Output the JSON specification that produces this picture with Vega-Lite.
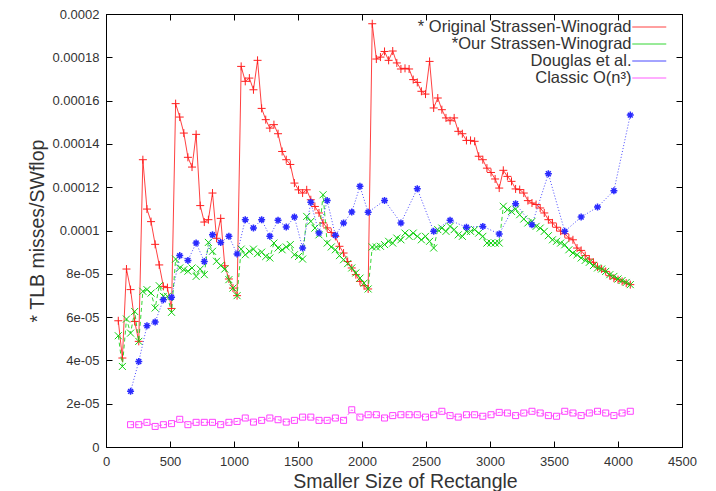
{
"$schema": "https://vega.github.io/schema/vega-lite/v6.json",
"width": 576, "height": 433,
"autosize": {"type": "none"},
"padding": {"left": 106, "top": 14, "right": 34, "bottom": 44},
"background": "white",
"datasets": {
"orig": [
{"x":96,"y":5.83e-5},{"x":128,"y":4.11e-5},{"x":160,"y":8.22e-5},{"x":192,"y":7.27e-5},{"x":224,"y":5.8e-5},{"x":256,"y":4.88e-5},{"x":288,"y":13.27e-5},{"x":320,"y":10.99e-5},{"x":352,"y":10.41e-5},{"x":384,"y":9.36e-5},{"x":416,"y":8.41e-5},{"x":448,"y":7.42e-5},{"x":480,"y":7.36e-5},{"x":512,"y":6.4e-5},{"x":544,"y":15.86e-5},{"x":576,"y":15.24e-5},{"x":608,"y":14.5e-5},{"x":640,"y":13.38e-5},{"x":672,"y":12.93e-5},{"x":704,"y":14.44e-5},{"x":736,"y":11.15e-5},{"x":768,"y":10.39e-5},{"x":800,"y":10.5e-5},{"x":832,"y":11.73e-5},{"x":864,"y":9.64e-5},{"x":896,"y":10.56e-5},{"x":928,"y":8.37e-5},{"x":960,"y":7.76e-5},{"x":992,"y":7.34e-5},{"x":1024,"y":6.99e-5},
{"x":1056,"y":17.58e-5},{"x":1088,"y":16.89e-5},{"x":1120,"y":17.04e-5},{"x":1152,"y":16.5e-5},{"x":1184,"y":17.86e-5},{"x":1216,"y":15.64e-5},{"x":1248,"y":15.12e-5},{"x":1280,"y":14.73e-5},{"x":1312,"y":14.89e-5},{"x":1344,"y":14.47e-5},{"x":1376,"y":13.65e-5},{"x":1408,"y":13.27e-5},{"x":1440,"y":13.05e-5},{"x":1472,"y":12.19e-5},{"x":1504,"y":11.88e-5},{"x":1536,"y":11.73e-5},{"x":1568,"y":11.88e-5},{"x":1600,"y":11.42e-5},{"x":1632,"y":11.11e-5},{"x":1664,"y":10.81e-5},{"x":1696,"y":10.35e-5},{"x":1728,"y":10.12e-5},{"x":1760,"y":9.91e-5},{"x":1792,"y":9.73e-5},{"x":1824,"y":9.27e-5},{"x":1856,"y":8.96e-5},{"x":1888,"y":8.57e-5},{"x":1920,"y":8.27e-5},{"x":1952,"y":7.96e-5},{"x":1984,"y":7.65e-5},{"x":2016,"y":7.45e-5},{"x":2048,"y":7.3e-5},
{"x":2080,"y":19.55e-5},{"x":2112,"y":17.92e-5},{"x":2144,"y":18.01e-5},{"x":2176,"y":18.27e-5},{"x":2208,"y":17.86e-5},{"x":2240,"y":18.29e-5},{"x":2272,"y":17.74e-5},{"x":2304,"y":17.46e-5},{"x":2336,"y":17.49e-5},{"x":2368,"y":17.46e-5},{"x":2400,"y":16.97e-5},{"x":2432,"y":16.84e-5},{"x":2464,"y":16.43e-5},{"x":2496,"y":16.3e-5},{"x":2528,"y":17.81e-5},{"x":2560,"y":15.66e-5},{"x":2592,"y":16.12e-5},{"x":2624,"y":15.58e-5},{"x":2656,"y":15.2e-5},{"x":2688,"y":15.07e-5},{"x":2720,"y":15.2e-5},{"x":2752,"y":14.58e-5},{"x":2784,"y":14.47e-5},{"x":2816,"y":14.16e-5},{"x":2848,"y":14.16e-5},{"x":2880,"y":14.12e-5},{"x":2912,"y":13.43e-5},{"x":2944,"y":13.27e-5},{"x":2976,"y":12.88e-5},{"x":3008,"y":12.68e-5},{"x":3040,"y":12.38e-5},{"x":3072,"y":11.96e-5},
{"x":3104,"y":12.78e-5},{"x":3136,"y":12.5e-5},{"x":3168,"y":12.27e-5},{"x":3200,"y":11.92e-5},{"x":3232,"y":11.89e-5},{"x":3264,"y":11.73e-5},{"x":3296,"y":11.38e-5},{"x":3328,"y":11.27e-5},{"x":3360,"y":11.2e-5},{"x":3392,"y":11.04e-5},{"x":3424,"y":10.81e-5},{"x":3456,"y":10.5e-5},{"x":3488,"y":10.35e-5},{"x":3520,"y":10.15e-5},{"x":3552,"y":9.97e-5},{"x":3584,"y":9.85e-5},{"x":3616,"y":9.65e-5},{"x":3648,"y":9.57e-5},{"x":3680,"y":9.19e-5},{"x":3712,"y":9.08e-5},{"x":3744,"y":8.84e-5},{"x":3776,"y":8.68e-5},{"x":3808,"y":8.53e-5},{"x":3840,"y":8.31e-5},{"x":3872,"y":8.22e-5},{"x":3904,"y":8.11e-5},{"x":3936,"y":7.91e-5},{"x":3968,"y":7.8e-5},{"x":4000,"y":7.73e-5},{"x":4032,"y":7.65e-5},{"x":4064,"y":7.57e-5},{"x":4096,"y":7.5e-5}
],
"ours": [
{"x":96,"y":5.14e-5},{"x":128,"y":3.72e-5},{"x":160,"y":5.91e-5},{"x":192,"y":5.26e-5},{"x":224,"y":6.26e-5},{"x":256,"y":4.88e-5},{"x":288,"y":7.19e-5},{"x":320,"y":7.27e-5},{"x":352,"y":7.11e-5},{"x":384,"y":6.42e-5},{"x":416,"y":7.45e-5},{"x":448,"y":6.96e-5},{"x":480,"y":6.96e-5},{"x":512,"y":6.22e-5},{"x":544,"y":8.68e-5},{"x":576,"y":8.27e-5},{"x":608,"y":8.19e-5},{"x":640,"y":8.12e-5},{"x":672,"y":8.27e-5},{"x":704,"y":7.88e-5},{"x":736,"y":8.22e-5},{"x":768,"y":7.96e-5},{"x":800,"y":9.45e-5},{"x":832,"y":9.04e-5},{"x":864,"y":8.58e-5},{"x":896,"y":8.38e-5},{"x":928,"y":8.22e-5},{"x":960,"y":7.73e-5},{"x":992,"y":7.34e-5},{"x":1024,"y":6.99e-5},
{"x":1056,"y":9.14e-5},{"x":1088,"y":8.88e-5},{"x":1120,"y":9.04e-5},{"x":1152,"y":9.14e-5},{"x":1184,"y":8.93e-5},{"x":1216,"y":9.0e-5},{"x":1248,"y":8.8e-5},{"x":1280,"y":8.73e-5},{"x":1312,"y":9.42e-5},{"x":1344,"y":9.19e-5},{"x":1376,"y":9.11e-5},{"x":1408,"y":9.24e-5},{"x":1440,"y":9.35e-5},{"x":1472,"y":8.88e-5},{"x":1504,"y":8.8e-5},{"x":1536,"y":8.68e-5},{"x":1568,"y":10.65e-5},{"x":1600,"y":10.42e-5},{"x":1632,"y":10.11e-5},{"x":1664,"y":9.8e-5},{"x":1696,"y":11.65e-5},{"x":1728,"y":9.42e-5},{"x":1760,"y":9.24e-5},{"x":1792,"y":9.11e-5},{"x":1824,"y":8.84e-5},{"x":1856,"y":8.65e-5},{"x":1888,"y":8.47e-5},{"x":1920,"y":8.27e-5},{"x":1952,"y":8.04e-5},{"x":1984,"y":7.8e-5},{"x":2016,"y":7.57e-5},{"x":2048,"y":7.3e-5},
{"x":2080,"y":9.24e-5},{"x":2112,"y":9.24e-5},{"x":2144,"y":9.27e-5},{"x":2176,"y":9.35e-5},{"x":2208,"y":9.5e-5},{"x":2240,"y":9.42e-5},{"x":2272,"y":9.65e-5},{"x":2304,"y":9.57e-5},{"x":2336,"y":9.88e-5},{"x":2368,"y":9.73e-5},{"x":2400,"y":9.88e-5},{"x":2432,"y":9.73e-5},{"x":2464,"y":9.57e-5},{"x":2496,"y":9.73e-5},{"x":2528,"y":9.5e-5},{"x":2560,"y":9.19e-5},{"x":2592,"y":10.04e-5},{"x":2624,"y":10.11e-5},{"x":2656,"y":9.96e-5},{"x":2688,"y":10.19e-5},{"x":2720,"y":10.04e-5},{"x":2752,"y":9.8e-5},{"x":2784,"y":9.73e-5},{"x":2816,"y":9.96e-5},{"x":2848,"y":9.96e-5},{"x":2880,"y":10.04e-5},{"x":2912,"y":9.88e-5},{"x":2944,"y":9.73e-5},{"x":2976,"y":9.42e-5},{"x":3008,"y":9.42e-5},{"x":3040,"y":9.42e-5},{"x":3072,"y":9.42e-5},
{"x":3104,"y":11.12e-5},{"x":3136,"y":10.96e-5},{"x":3168,"y":10.88e-5},{"x":3200,"y":10.99e-5},{"x":3232,"y":10.73e-5},{"x":3264,"y":10.53e-5},{"x":3296,"y":10.35e-5},{"x":3328,"y":10.42e-5},{"x":3360,"y":10.19e-5},{"x":3392,"y":10.11e-5},{"x":3424,"y":9.96e-5},{"x":3456,"y":9.76e-5},{"x":3488,"y":9.57e-5},{"x":3520,"y":9.5e-5},{"x":3552,"y":9.42e-5},{"x":3584,"y":9.34e-5},{"x":3616,"y":9.11e-5},{"x":3648,"y":8.96e-5},{"x":3680,"y":8.88e-5},{"x":3712,"y":8.73e-5},{"x":3744,"y":8.62e-5},{"x":3776,"y":8.53e-5},{"x":3808,"y":8.38e-5},{"x":3840,"y":8.27e-5},{"x":3872,"y":8.22e-5},{"x":3904,"y":8.11e-5},{"x":3936,"y":7.96e-5},{"x":3968,"y":7.88e-5},{"x":4000,"y":7.76e-5},{"x":4032,"y":7.69e-5},{"x":4064,"y":7.6e-5},{"x":4096,"y":7.5e-5}
],
"doug": [
{"x":192,"y":2.57e-5},{"x":256,"y":3.95e-5},{"x":320,"y":5.6e-5},{"x":384,"y":5.77e-5},{"x":448,"y":6.8e-5},{"x":512,"y":6.92e-5},{"x":576,"y":8.84e-5},{"x":640,"y":8.62e-5},{"x":704,"y":9.42e-5},{"x":768,"y":8.57e-5},{"x":832,"y":9.8e-5},{"x":896,"y":9.45e-5},{"x":960,"y":9.73e-5},{"x":1024,"y":8.92e-5},{"x":1088,"y":10.5e-5},{"x":1152,"y":10.12e-5},{"x":1216,"y":10.5e-5},{"x":1280,"y":9.73e-5},{"x":1344,"y":10.47e-5},{"x":1408,"y":10.16e-5},{"x":1472,"y":10.62e-5},{"x":1536,"y":9.19e-5},{"x":1600,"y":11.3e-5},{"x":1664,"y":9.88e-5},{"x":1728,"y":11.38e-5},{"x":1792,"y":9.78e-5},{"x":1856,"y":10.35e-5},{"x":1920,"y":10.85e-5},{"x":1984,"y":12.04e-5},{"x":2048,"y":10.84e-5},{"x":2176,"y":11.39e-5},{"x":2304,"y":10.35e-5},{"x":2432,"y":11.93e-5},{"x":2560,"y":9.96e-5},{"x":2688,"y":10.47e-5},{"x":2816,"y":10.15e-5},{"x":2944,"y":10.19e-5},{"x":3072,"y":9.84e-5},{"x":3200,"y":11.24e-5},{"x":3328,"y":10.27e-5},{"x":3456,"y":12.62e-5},{"x":3584,"y":9.96e-5},{"x":3712,"y":10.62e-5},{"x":3840,"y":11.08e-5},{"x":3968,"y":11.84e-5},{"x":4096,"y":15.33e-5}
],
"classic": [
{"x":192,"y":1.03e-5},{"x":256,"y":1.03e-5},{"x":320,"y":1.14e-5},{"x":384,"y":0.95e-5},{"x":448,"y":1.03e-5},{"x":512,"y":1.08e-5},{"x":576,"y":1.28e-5},{"x":640,"y":1.03e-5},{"x":704,"y":1.14e-5},{"x":768,"y":1.14e-5},{"x":832,"y":1.14e-5},{"x":896,"y":1.03e-5},{"x":960,"y":1.14e-5},{"x":1024,"y":1.18e-5},{"x":1088,"y":1.34e-5},{"x":1152,"y":1.15e-5},{"x":1216,"y":1.23e-5},{"x":1280,"y":1.34e-5},{"x":1344,"y":1.26e-5},{"x":1408,"y":1.15e-5},{"x":1472,"y":1.23e-5},{"x":1536,"y":1.38e-5},{"x":1600,"y":1.38e-5},{"x":1664,"y":1.23e-5},{"x":1728,"y":1.23e-5},{"x":1792,"y":1.34e-5},{"x":1856,"y":1.23e-5},{"x":1920,"y":1.72e-5},{"x":1984,"y":1.38e-5},{"x":2048,"y":1.49e-5},{"x":2112,"y":1.49e-5},{"x":2176,"y":1.34e-5},{"x":2240,"y":1.45e-5},{"x":2304,"y":1.49e-5},{"x":2368,"y":1.49e-5},{"x":2432,"y":1.49e-5},{"x":2496,"y":1.38e-5},{"x":2560,"y":1.49e-5},{"x":2624,"y":1.65e-5},{"x":2688,"y":1.45e-5},{"x":2752,"y":1.38e-5},{"x":2816,"y":1.49e-5},{"x":2880,"y":1.49e-5},{"x":2944,"y":1.42e-5},{"x":3008,"y":1.49e-5},{"x":3072,"y":1.6e-5},{"x":3136,"y":1.57e-5},{"x":3200,"y":1.45e-5},{"x":3264,"y":1.57e-5},{"x":3328,"y":1.65e-5},{"x":3392,"y":1.57e-5},{"x":3456,"y":1.45e-5},{"x":3520,"y":1.42e-5},{"x":3584,"y":1.65e-5},{"x":3648,"y":1.57e-5},{"x":3712,"y":1.45e-5},{"x":3776,"y":1.57e-5},{"x":3840,"y":1.65e-5},{"x":3904,"y":1.57e-5},{"x":3968,"y":1.45e-5},{"x":4032,"y":1.57e-5},{"x":4096,"y":1.65e-5}
]
},
"layer": [
{
"data": {"name": "orig"},
"mark": {"type": "line", "strokeWidth": 1, "opacity": 0.85},
"encoding": {
"x": {"field": "x", "type": "quantitative", "scale": {"domain": [0, 4500], "nice": false},
 "axis": {"orient": "bottom", "values": [0,500,1000,1500,2000,2500,3000,3500,4000,4500], "format": "d", "title": "Smaller Size of Rectangle", "tickSize": -6, "labelPadding": 14, "labelDx": 3, "labelFlush": false, "labelOverlap": false, "titleX": 299, "titleY": 25, "titleBaseline": "top", "titleAlign": "center"}},
"y": {"field": "y", "type": "quantitative", "scale": {"domain": [0, 0.0002], "nice": false, "zero": true},
 "axis": {"orient": "left", "values": [0,0.00002,0.00004,0.00006,0.00008,0.0001,0.00012,0.00014,0.00016,0.00018,0.0002], "labelExpr": "datum.value == 0 ? '0' : datum.value < 0.00009 ? format(datum.value*100000, '.0f') + 'e-05' : format(datum.value, '~g')", "title": "* TLB misses/SWflop", "tickSize": -6, "labelPadding": 13, "labelFlush": false, "labelOverlap": false, "titleX": -63, "titleY": 216.5, "titleAngle": 270, "titleBaseline": "alphabetic", "titleAlign": "center"}},
"color": {"datum": "* Original Strassen-Winograd",
 "scale": {"domain": ["* Original Strassen-Winograd", "*Our Strassen-Winograd", "Douglas et al.", "Classic O(n³)"], "range": ["#ff2020", "#10d010", "#2a2aff", "#ff40ff"]},
 "legend": {"title": null, "orient": "none", "legendX": 535, "legendY": 4.75, "padding": 0, "rowPadding": -2.5, "symbolType": "M-3.4,0H3.4", "symbolSize": 100, "symbolStrokeWidth": 1, "labelAlign": "right", "labelOffset": -26, "labelFontSize": 16.5, "labelFont": "Liberation Sans", "labelColor": "#333", "labelLimit": 400}}
}
},
{
"data": {"name": "orig"},
"mark": {"type": "point", "shape": "M-1,0H1M0,-1V1", "size": 64, "filled": false, "strokeWidth": 1, "opacity": 1},
"encoding": {
"x": {"field": "x", "type": "quantitative", "axis": {"orient": "top", "values": [0,500,1000,1500,2000,2500,3000,3500,4000,4500], "labels": false, "title": null, "tickSize": -6}},
"y": {"field": "y", "type": "quantitative", "axis": {"orient": "right", "values": [0,0.00002,0.00004,0.00006,0.00008,0.0001,0.00012,0.00014,0.00016,0.00018,0.0002], "labels": false, "title": null, "tickSize": -6}},
"color": {"datum": "* Original Strassen-Winograd"}
}
},
{
"data": {"name": "ours"},
"mark": {"type": "line", "strokeWidth": 1, "strokeDash": [4, 3], "opacity": 0.85},
"encoding": {
"x": {"field": "x", "type": "quantitative", "axis": null},
"y": {"field": "y", "type": "quantitative", "axis": null},
"color": {"datum": "*Our Strassen-Winograd"}
}
},
{
"data": {"name": "ours"},
"mark": {"type": "point", "shape": "M-1,-1L1,1M-1,1L1,-1", "size": 49, "filled": false, "strokeWidth": 1, "opacity": 1},
"encoding": {
"x": {"field": "x", "type": "quantitative", "axis": null},
"y": {"field": "y", "type": "quantitative", "axis": null},
"color": {"datum": "*Our Strassen-Winograd"}
}
},
{
"data": {"name": "doug"},
"mark": {"type": "line", "strokeWidth": 1, "strokeDash": [1, 2], "opacity": 0.85},
"encoding": {
"x": {"field": "x", "type": "quantitative", "axis": null},
"y": {"field": "y", "type": "quantitative", "axis": null},
"color": {"datum": "Douglas et al."}
}
},
{
"data": {"name": "doug"},
"mark": {"type": "point", "shape": "M-1,0H1M0,-1V1M-0.7,-0.7L0.7,0.7M-0.7,0.7L0.7,-0.7", "size": 49, "filled": false, "strokeWidth": 1.5, "opacity": 1},
"encoding": {
"x": {"field": "x", "type": "quantitative", "axis": null},
"y": {"field": "y", "type": "quantitative", "axis": null},
"color": {"datum": "Douglas et al."}
}
},
{
"data": {"name": "classic"},
"mark": {"type": "line", "strokeWidth": 1, "strokeDash": [3, 2], "opacity": 0.85},
"encoding": {
"x": {"field": "x", "type": "quantitative", "axis": null},
"y": {"field": "y", "type": "quantitative", "axis": null},
"color": {"datum": "Classic O(n³)"}
}
},
{
"data": {"name": "classic"},
"mark": {"type": "point", "shape": "square", "size": 36, "filled": false, "strokeWidth": 1, "opacity": 1},
"encoding": {
"x": {"field": "x", "type": "quantitative", "axis": null},
"y": {"field": "y", "type": "quantitative", "axis": null},
"color": {"datum": "Classic O(n³)"}
}
}
],
"resolve": {"axis": {"x": "independent", "y": "independent"}},
"config": {
"view": {"stroke": "#000", "strokeWidth": 1},
"axis": {"domainColor": "#000", "tickColor": "#000", "grid": false, "labelFont": "Liberation Sans", "labelFontSize": 13, "labelColor": "#333", "titleFont": "Liberation Sans", "titleFontSize": 19.5, "titleFontWeight": "normal", "titleColor": "#333"}
}
}
